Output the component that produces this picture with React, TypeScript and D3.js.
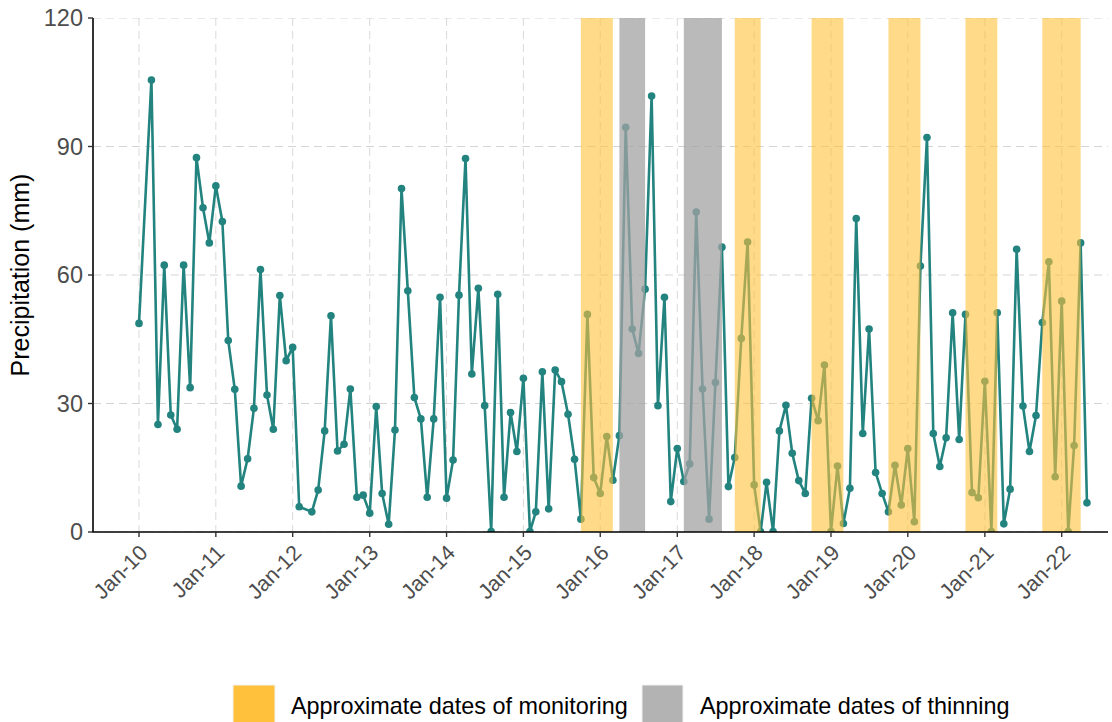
import React from "react";
import * as d3 from "d3";

const monthKeys = [
  "2010-01","2010-03","2010-04","2010-05","2010-06","2010-07","2010-08","2010-09","2010-10","2010-11","2010-12",
  "2011-01","2011-02","2011-03","2011-04","2011-05","2011-06","2011-07","2011-08","2011-09","2011-10","2011-11","2011-12",
  "2012-01","2012-02","2012-04","2012-05","2012-06","2012-07","2012-08","2012-09","2012-10","2012-11","2012-12",
  "2013-01","2013-02","2013-03","2013-04","2013-05","2013-06","2013-07","2013-08","2013-09","2013-10","2013-11","2013-12",
  "2014-01","2014-02","2014-03","2014-04","2014-05","2014-06","2014-07","2014-08","2014-09","2014-10","2014-11","2014-12",
  "2015-01","2015-02","2015-03","2015-04","2015-05","2015-06","2015-07","2015-08","2015-09","2015-10","2015-11","2015-12",
  "2016-01","2016-02","2016-03","2016-04","2016-05","2016-06","2016-07","2016-08","2016-09","2016-10","2016-11","2016-12",
  "2017-01","2017-02","2017-03","2017-04","2017-05","2017-06","2017-07","2017-08","2017-09","2017-10","2017-11","2017-12",
  "2018-01","2018-02","2018-03","2018-04","2018-05","2018-06","2018-07","2018-08","2018-09","2018-10","2018-11","2018-12",
  "2019-01","2019-02","2019-03","2019-04","2019-05","2019-06","2019-07","2019-08","2019-09","2019-10","2019-11","2019-12",
  "2020-01","2020-02","2020-03","2020-04","2020-05","2020-06","2020-07","2020-08","2020-09","2020-10","2020-11","2020-12",
  "2021-01","2021-02","2021-03","2021-04","2021-05","2021-06","2021-07","2021-08","2021-09","2021-10","2021-11","2021-12",
  "2022-01","2022-02","2022-03","2022-04","2022-05"
];

const precipitation = [
  48.7,105.5,25.1,62.3,27.3,24.0,62.3,33.7,87.4,75.7,67.5,
  80.8,72.5,44.7,33.3,10.7,17.1,28.9,61.3,32.0,24.0,55.2,40.0,
  43.1,5.9,4.7,9.8,23.6,50.5,18.9,20.5,33.4,8.1,8.6,
  4.4,29.3,9.0,1.8,23.8,80.2,56.3,31.4,26.4,8.1,26.4,54.8,
  7.9,16.8,55.3,87.2,36.9,56.9,29.5,0.1,55.5,8.1,27.9,18.8,
  35.9,0.1,4.7,37.4,5.4,37.8,35.1,27.5,17.0,3.0,50.8,12.7,
  9.0,22.3,12.1,22.5,94.5,47.4,41.7,56.7,101.8,29.5,54.8,7.1,
  19.5,11.8,15.9,74.7,33.4,3.0,34.9,66.5,10.6,17.4,45.2,67.7,
  11.0,0.1,11.6,0.1,23.6,29.6,18.4,12.0,9.0,31.2,26.0,39.0,
  0.1,15.4,2.0,10.2,73.2,23.0,47.4,13.9,9.0,4.7,15.6,6.3,
  19.5,2.4,62.1,92.1,23.0,15.3,22.0,51.2,21.6,50.8,9.2,8.0,
  35.2,0.1,51.2,1.9,10.0,66.0,29.4,18.8,27.2,48.9,63.1,12.9,
  53.9,0.1,20.2,67.5,6.8
];

const monitoringStart = ["2015-10","2017-10","2018-10","2019-10","2020-10","2021-10"];
const monitoringEnd = ["2016-03","2018-02","2019-03","2020-03","2021-03","2022-04"];
const thinningStart = ["2016-04","2017-02"];
const thinningEnd = ["2016-08","2017-08"];

const yTicks = [0, 30, 60, 90, 120];
const xTickYears = [2010,2011,2012,2013,2014,2015,2016,2017,2018,2019,2020,2021,2022];
const legendLabels = ["Approximate dates of monitoring", "Approximate dates of thinning"];

const W = 1112, H = 722;
const left = 93, right = 1108, top = 18, bottom = 532;
const FONT = "'Liberation Sans', Arial, sans-serif";
const TEAL = "#22837f";
const ORANGE = "#FFC13B";
const GREY = "#A3A3A3";

export default function App() {
  const parse = d3.timeParse("%Y-%m");
  const data = monthKeys.map((k, i) => ({ date: parse(k) as Date, v: precipitation[i] }));
  const x = d3.scaleTime()
    .domain([new Date(2010, 0, 1), new Date(2022, 0, 1)])
    .range([139, 1061.7]);
  const y = d3.scaleLinear().domain([0, 120]).range([bottom, top]);
  const line = d3.line<{ date: Date; v: number }>().x(d => x(d.date)).y(d => y(d.v));
  const fmt = d3.timeFormat("%b-%y");
  const xTicks = xTickYears.map(yr => new Date(yr, 0, 1));

  const monRects = monitoringStart.map((s, i) => ({ a: parse(s) as Date, b: parse(monitoringEnd[i]) as Date }));
  const thinRects = thinningStart.map((s, i) => ({ a: parse(s) as Date, b: parse(thinningEnd[i]) as Date }));

  return (
    <svg width={W} height={H} style={{ position: "absolute", left: 0, top: 0, background: "#fff" }}>
      <defs>
        <clipPath id="panel">
          <rect x={left} y={top} width={right - left} height={bottom - top} />
        </clipPath>
      </defs>
      <rect x={0} y={0} width={W} height={H} fill="#fff" />
      <g clipPath="url(#panel)">
        {yTicks.map(t => (
          <line key={"gy" + t} x1={left} x2={right} y1={y(t)} y2={y(t)} stroke="#d4d4d4" strokeWidth={1} strokeDasharray="8,5" />
        ))}
        {xTicks.map((t, i) => (
          <line key={"gx" + i} x1={x(t)} x2={x(t)} y1={top} y2={bottom} stroke="#d9d9d9" strokeWidth={1} strokeDasharray="8,5" />
        ))}
        <path d={line(data) || ""} fill="none" stroke={TEAL} strokeWidth={2.6} strokeLinejoin="round" />
        {data.map((d, i) => (
          <circle key={"p" + i} cx={x(d.date)} cy={y(d.v)} r={3.8} fill={TEAL} />
        ))}
        {monRects.map((r, i) => (
          <rect key={"m" + i} x={x(r.a)} y={top} width={x(r.b) - x(r.a)} height={bottom - top} fill={ORANGE} fillOpacity={0.6} />
        ))}
        {thinRects.map((r, i) => (
          <rect key={"t" + i} x={x(r.a)} y={top} width={x(r.b) - x(r.a)} height={bottom - top} fill={GREY} fillOpacity={0.75} />
        ))}
      </g>
      {/* axes */}
      <line x1={left} x2={left} y1={top} y2={bottom} stroke="#000" strokeWidth={1.6} />
      <line x1={left - 0.8} x2={right} y1={bottom} y2={bottom} stroke="#000" strokeWidth={1.6} />
      {yTicks.map(t => (
        <g key={"ty" + t}>
          <line x1={left - 5} x2={left} y1={y(t)} y2={y(t)} stroke="#333" strokeWidth={1.4} />
          <text x={left - 10} y={y(t)} dy="0.36em" textAnchor="end" fontFamily={FONT} fontSize={23.5} fill="#4d4d4d">{t}</text>
        </g>
      ))}
      {xTicks.map((t, i) => {
        const tx = x(t);
        return (
          <g key={"tx" + i}>
            <line x1={tx} x2={tx} y1={bottom} y2={bottom + 5} stroke="#333" strokeWidth={1.4} />
            <text transform={`translate(${tx + 10},${bottom + 22}) rotate(-45)`} textAnchor="end" fontFamily={FONT} fontSize={21.5} fill="#4d4d4d">{fmt(t)}</text>
          </g>
        );
      })}
      <text transform={`translate(29,${(top + bottom) / 2}) rotate(-90)`} textAnchor="middle" fontFamily={FONT} fontSize={25} fill="#000">Precipitation (mm)</text>
      {/* legend */}
      <rect x={233} y={685} width={42} height={42} fill={ORANGE} stroke="#f2f2f2" strokeWidth={1} />
      <text x={291} y={706} dy="0.36em" fontFamily={FONT} fontSize={23.4} fill="#000">{legendLabels[0]}</text>
      <rect x={642} y={685} width={41} height={42} fill="#b3b3b3" stroke="#f2f2f2" strokeWidth={1} />
      <text x={700} y={706} dy="0.36em" fontFamily={FONT} fontSize={23.4} fill="#000">{legendLabels[1]}</text>
    </svg>
  );
}
